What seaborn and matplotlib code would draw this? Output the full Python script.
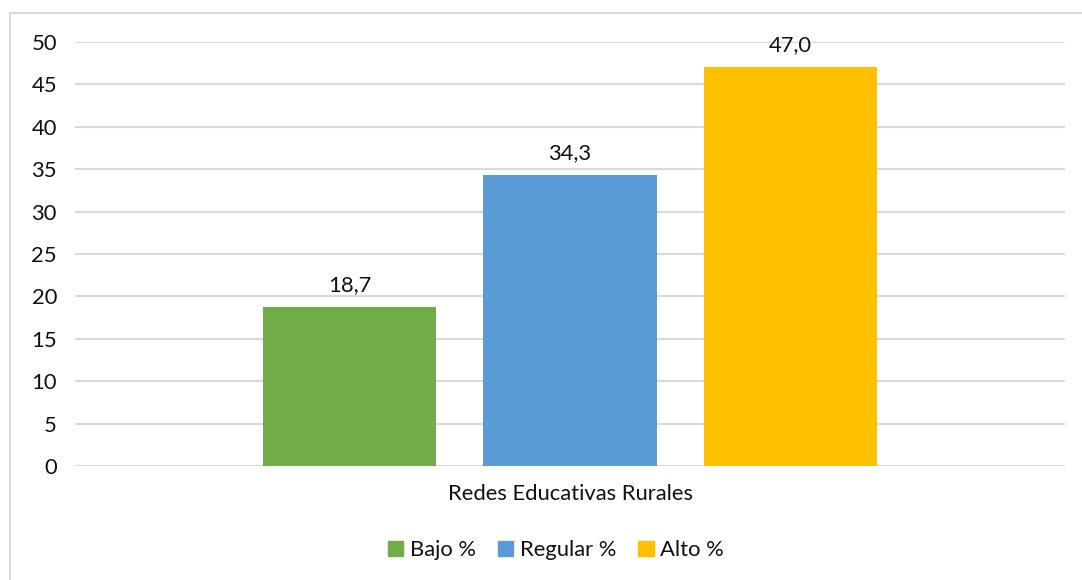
import matplotlib
matplotlib.use("Agg")
import matplotlib.pyplot as plt
from matplotlib.patches import Rectangle
import seaborn as sns
import pandas as pd

category = "Redes Educativas Rurales"
series = ["Bajo %", "Regular %", "Alto %"]
values = [18.7, 34.3, 47.0]
colors = ["#70AD47", "#5B9BD5", "#FFC000"]
yticks = [0, 5, 10, 15, 20, 25, 30, 35, 40, 45, 50]

sns.set_theme(style="white")
plt.rcParams["font.family"] = ["Lato", "DejaVu Sans"]

df = pd.DataFrame({"grupo": [category] * len(series), "nivel": series, "valor": values})

W, H = 1082, 580
FS = 15.8
TXT = "#111111"
fig = plt.figure(figsize=(W / 100, H / 100), dpi=100)
fig.patch.set_facecolor("white")

# light frame around the chart area
fig.patches.append(Rectangle((10 / W, -0.1), 1.2, (H - 13) / H + 0.1,
                             transform=fig.transFigure, fill=False,
                             edgecolor="#D9D9D9", linewidth=1.5))

ax = fig.add_axes([75 / W, (H - 466) / H, 990 / W, 424 / H])
sns.barplot(data=df, x="grupo", y="valor", hue="nivel", hue_order=series,
            palette=colors, width=0.667, gap=0.214, saturation=1,
            linewidth=0, legend=True, ax=ax, zorder=3)

ax.set_xlim(-0.5, 0.5)
ax.set_ylim(0, 50)
ax.set_yticks(yticks)
ax.set_yticklabels([str(t) for t in yticks], fontsize=FS, color=TXT)
ax.tick_params(axis="y", length=0, pad=13)
ax.tick_params(axis="x", length=0, pad=13, labelsize=FS, labelcolor=TXT)
ax.set_xlabel("")
ax.set_ylabel("")
ax.yaxis.grid(True, color="#D9D9D9", linewidth=1.5, zorder=0)
ax.set_axisbelow(True)
for s in ax.spines.values():
    s.set_visible(False)

for cont in ax.containers:
    ax.bar_label(cont, labels=[f"{v:.1f}".replace(".", ",") for v in cont.datavalues],
                 padding=9, fontsize=FS, color=TXT)

ax.legend_.remove()
handles = [Rectangle((0, 0), 1, 1, color=c) for c in colors]
fig.legend(handles, series, loc="center", bbox_to_anchor=(556 / W, (H - 550) / H),
           ncol=3, frameon=False, fontsize=FS, handlelength=0.7, handleheight=0.7,
           handletextpad=0.3, columnspacing=1.0, labelcolor=TXT)

fig.savefig("out.png", dpi=100, facecolor="white")
